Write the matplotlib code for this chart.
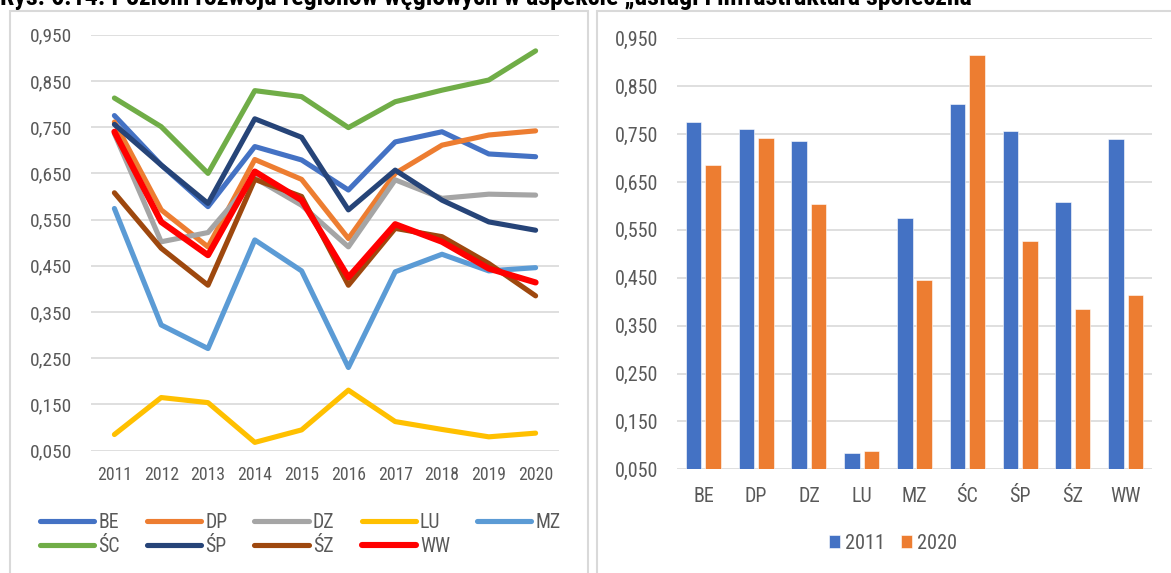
import matplotlib
matplotlib.use("Agg")
import matplotlib.pyplot as plt
from matplotlib import font_manager
from matplotlib.patches import Rectangle
import numpy as np

# ---------------- data ----------------
years = ['2011', '2012', '2013', '2014', '2015', '2016', '2017', '2018', '2019', '2020']
regions = ['BE', 'DP', 'DZ', 'LU', 'MZ', 'ŚC', 'ŚP', 'ŚZ', 'WW']

BE = [0.775, 0.668, 0.578, 0.708, 0.679, 0.614, 0.718, 0.740, 0.692, 0.686]
DP = [0.761, 0.571, 0.491, 0.680, 0.637, 0.509, 0.650, 0.711, 0.733, 0.742]
DZ = [0.736, 0.502, 0.522, 0.640, 0.581, 0.491, 0.636, 0.596, 0.605, 0.603]
LU = [0.085, 0.165, 0.154, 0.068, 0.095, 0.181, 0.113, 0.096, 0.080, 0.088]
MZ = [0.574, 0.322, 0.271, 0.506, 0.439, 0.230, 0.437, 0.475, 0.439, 0.446]
SC = [0.813, 0.751, 0.650, 0.829, 0.816, 0.749, 0.805, 0.830, 0.852, 0.915]
SP = [0.756, 0.668, 0.585, 0.768, 0.728, 0.571, 0.657, 0.592, 0.545, 0.527]
SZ = [0.608, 0.488, 0.408, 0.637, 0.600, 0.408, 0.531, 0.513, 0.455, 0.385]
WW = [0.740, 0.545, 0.473, 0.654, 0.592, 0.425, 0.540, 0.502, 0.444, 0.414]

series = [BE, DP, DZ, LU, MZ, SC, SP, SZ, WW]
colors = ['#4472C4', '#ED7D31', '#A5A5A5', '#FFC000', '#5B9BD5',
          '#70AD47', '#264478', '#9E480E', '#FF0000']

bar_2011 = [s[0] for s in series]
bar_2020 = [s[-1] for s in series]

yticks = [0.05, 0.15, 0.25, 0.35, 0.45, 0.55, 0.65, 0.75, 0.85, 0.95]
title = 'Rys. 6.14. Poziom rozwoju regionów węglowych w aspekcie „usługi i infrastruktura społeczna”'

# ---------------- fonts ----------------
avail = {f.name for f in font_manager.fontManager.ttflist}

def pick(cands):
    for c in cands:
        if c in avail:
            return c
    return 'Liberation Sans'

fam = pick(['Liberation Sans Narrow', 'Roboto Condensed', 'Archivo Narrow', 'Liberation Sans'])
title_fam = pick(['Liberation Sans Narrow', 'Roboto Condensed', 'PT Sans Narrow', 'Liberation Sans'])
plt.rcParams['font.family'] = [fam, 'Liberation Sans', 'DejaVu Sans']
k = 1.0 if fam == 'Liberation Sans Narrow' else 0.96

W, H = 1171, 573
fig = plt.figure(figsize=(W / 100, H / 100), dpi=100)

def fx(px):
    return px / W

def fy(py):
    return 1 - py / H

# chart area borders
fig.patches.append(Rectangle((fx(10), fy(590)), fx(588) - fx(10), fy(11) - fy(590),
                             transform=fig.transFigure, fill=False, edgecolor='#D9D9D9', lw=1.5))
fig.patches.append(Rectangle((fx(597), fy(590)), fx(1200) - fx(597), fy(11) - fy(590),
                             transform=fig.transFigure, fill=False, edgecolor='#D9D9D9', lw=1.5))

tick_color = '#595959'
grid_color = '#D9D9D9'

def fmt(v):
    return f'{v:.3f}'.replace('.', ',')

# ---------------- left: line chart ----------------
ax1 = fig.add_axes([fx(91), fy(450.7), fx(559) - fx(91), fy(34.7) - fy(450.7)])
x = np.arange(len(years))
for name, s, c in zip(regions, series, colors):
    lw = 4.4 if name == 'WW' else 3.7
    ax1.plot(x, s, color=c, lw=lw, label=name, solid_capstyle='round', solid_joinstyle='round')
ax1.set_xlim(-0.5, len(years) - 0.5)
ax1.set_ylim(0.05, 0.95)
ax1.set_yticks(yticks)
ax1.set_yticklabels([fmt(v) for v in yticks])
ax1.set_xticks(x)
ax1.set_xticklabels(years)
ax1.tick_params(axis='y', length=0, pad=13.5, labelsize=14.5 * k, labelcolor=tick_color)
ax1.tick_params(axis='x', length=0, pad=11, labelsize=13.2 * k, labelcolor=tick_color)
ax1.grid(axis='y', color=grid_color, lw=1.2)
ax1.set_axisbelow(True)
for sp in ax1.spines.values():
    sp.set_visible(False)

# legend laid out row-wise (matplotlib fills column-wise, so reorder)
h, l = ax1.get_legend_handles_labels()
order = [0, 5, 1, 6, 2, 7, 3, 8, 4]
fs1 = 14.8 * k
leg1 = fig.legend([h[i] for i in order], [l[i] for i in order], loc='center left',
                  bbox_to_anchor=(fx(40), fy(534.5)), ncol=5, frameon=False,
                  fontsize=fs1, handlelength=39 / fs1, handletextpad=3 / fs1,
                  columnspacing=19.5 / fs1, labelspacing=0.22, borderpad=0, borderaxespad=0)
for t in leg1.get_texts():
    t.set_color(tick_color)

# ---------------- right: bar chart ----------------
ax2 = fig.add_axes([fx(677), fy(469.3), fx(1152) - fx(677), fy(38.3) - fy(469.3)])
xb = np.arange(len(regions))
bw = 0.295
ax2.bar(xb - 0.185, bar_2011, width=bw, color='#4472C4', label='2011',
        edgecolor='white', linewidth=0.4)
ax2.bar(xb + 0.185, bar_2020, width=bw, color='#ED7D31', label='2020',
        edgecolor='white', linewidth=0.4)
ax2.set_xlim(-0.5, len(regions) - 0.5)
ax2.set_ylim(0.05, 0.95)
ax2.set_yticks(yticks)
ax2.set_yticklabels([fmt(v) for v in yticks])
ax2.set_xticks(xb)
ax2.set_xticklabels(regions)
ax2.tick_params(axis='y', length=0, pad=13.5, labelsize=15 * k, labelcolor=tick_color)
ax2.tick_params(axis='x', length=0, pad=13, labelsize=15 * k, labelcolor=tick_color)
ax2.grid(axis='y', color=grid_color, lw=1.2)
ax2.set_axisbelow(True)
for sp in ax2.spines.values():
    sp.set_visible(False)

fs2 = 15.2 * k
leg2 = fig.legend(*ax2.get_legend_handles_labels(), loc='center',
                  bbox_to_anchor=(fx(892.8), fy(543.3)), ncol=2, frameon=False,
                  fontsize=fs2, handlelength=8.3 / fs2, handleheight=8.3 / fs2,
                  handletextpad=3.2 / fs2, columnspacing=11.5 / fs2, borderpad=0, borderaxespad=0)
for t in leg2.get_texts():
    t.set_color(tick_color)

# ---------------- clipped title at top ----------------
tt = fig.text(fx(0), fy(5), title, fontsize=14, fontweight='bold', color='black',
              ha='left', va='baseline', family=[title_fam, 'Liberation Sans', 'DejaVu Sans'])
fig.canvas.draw()
w = tt.get_window_extent().width
tt.set_fontsize(14 * 986 / w)

fig.savefig('out.png', dpi=100)
